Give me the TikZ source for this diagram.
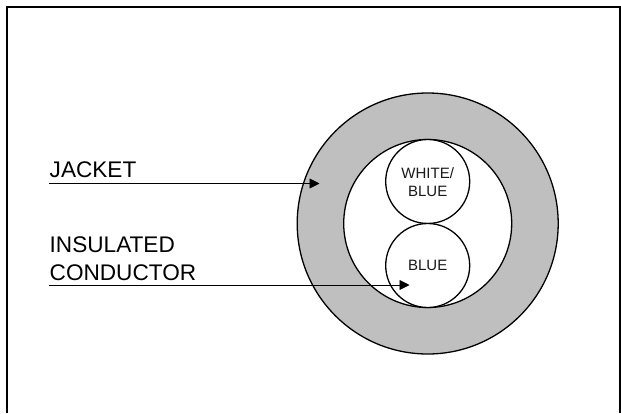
\documentclass[tikz,border=0pt]{standalone}
\usepackage{fontspec}
\setmainfont{Liberation Sans}
\usetikzlibrary{arrows.meta}
\tikzset{
  x=1pt,y=-1pt,
  sheath/.style={circle,draw=black,line width=1.3pt,minimum size=#1,inner sep=0pt,outer sep=0pt},
  biglabel/.style={anchor=base west,inner sep=0pt,font=\fontsize{22.6}{22.6}\selectfont,text=black},
  smalllabel/.style={anchor=base,inner sep=0pt,font=\fontsize{15}{15}\selectfont,text=black!90},
  leader/.style={line width=0.9pt,-{Triangle[length=10pt,width=10pt]}},
  frameline/.style={line width=2pt,line cap=butt,line join=miter}
}
\begin{document}
\begin{tikzpicture}
\useasboundingbox (0,0) rectangle (621,413);
\fill[white] (0,0) rectangle (621,413);
\coordinate (fbl) at (6.5,413);
\coordinate (ftl) at (6.5,7);
\coordinate (ftr) at (619.5,7);
\coordinate (fbr) at (619.5,413);
\draw[frameline] (fbl) -- (ftl) -- (ftr) -- (fbr);
\node[sheath=261pt,fill=black!25] (jacket) at (427.7,223.5) {};
\node[sheath=168pt,fill=white] (inner) at (427.7,223.5) {};
\node[sheath=84pt,fill=white] (wb) at (427.7,181.5) {};
\node[sheath=84pt,fill=white] (bl) at (427.7,265.5) {};
\node[smalllabel] (wbt1) at (427.7,178) {WHITE/};
\node[smalllabel] (wbt2) at (427.7,196.7) {BLUE};
\node[smalllabel] (blt) at (427.7,270.7) {BLUE};
\node[biglabel] (jl) at (49.5,177.7) {JACKET};
\node[biglabel] (il) at (49.5,252.7) {INSULATED};
\node[biglabel] (cl) at (49.5,280) {CONDUCTOR};
\coordinate (ja) at (49,183.5);
\coordinate (jb) at (319.5,183.5);
\coordinate (ia) at (49,285);
\coordinate (ib) at (409.5,285);
\draw[leader] (ja) -- (jb);
\draw[leader] (ia) -- (ib);
\end{tikzpicture}
\end{document}
